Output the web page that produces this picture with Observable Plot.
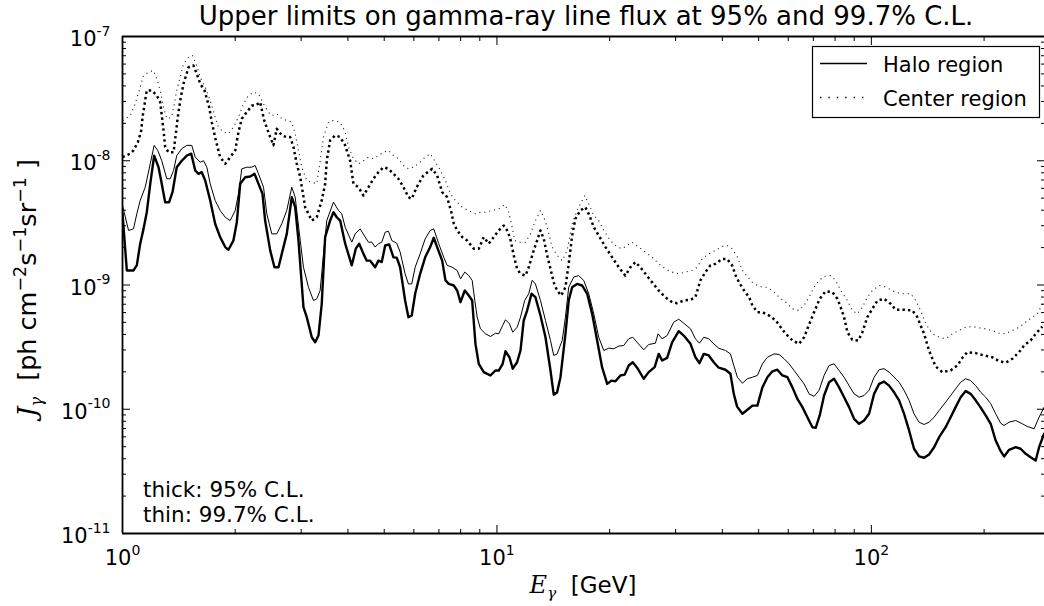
<!DOCTYPE html>
<html>
<head>
<meta charset="utf-8">
<script src="https://cdn.jsdelivr.net/npm/d3@7"></script>
<script src="https://cdn.jsdelivr.net/npm/@observablehq/plot@0.6"></script>
<style>
  html, body { margin: 0; padding: 0; background: #fff; }
  #chart { width: 1044px; height: 606px; }
  svg { overflow: visible; }
</style>
</head>
<body>
<div id="chart"></div>
<script>
// ---------------- data ----------------
const titleText = "Upper limits on gamma-ray line flux at 95% and 99.7% C.L.";
const legendLabels = ["Halo region", "Center region"];
const noteLines = ["thick: 95% C.L.", "thin: 99.7% C.L."];

const xMajorTicks = [1, 10, 100];
const xMinorTicks = [2, 3, 4, 5, 6, 7, 8, 9, 20, 30, 40, 50, 60, 70, 80, 90, 200];
const yMajorTicks = [1e-11, 1e-10, 1e-9, 1e-8, 1e-7];
const yMinorTicks = [2e-11,3e-11,4e-11,5e-11,6e-11,7e-11,8e-11,9e-11,
                     2e-10,3e-10,4e-10,5e-10,6e-10,7e-10,8e-10,9e-10,
                     2e-9,3e-9,4e-9,5e-9,6e-9,7e-9,8e-9,9e-9,
                     2e-8,3e-8,4e-8,5e-8,6e-8,7e-8,8e-8,9e-8];

// Halo region, 95% C.L. (thick solid)
const haloThickE = [1.00,1.027,1.070,1.092,1.115,1.138,1.161,1.186,1.215,1.248,
1.273,1.300,1.332,1.360,1.396,1.440,1.485,1.526,1.564,1.596,
1.628,1.663,1.715,1.768,1.823,1.881,1.919,1.978,2.020,2.062,
2.127,2.193,2.252,2.308,2.365,2.404,2.480,2.546,2.610,2.663,
2.746,2.832,2.892,2.951,3.043,3.105,3.203,3.270,3.337,3.405,
3.477,3.585,3.660,3.734,3.814,3.933,4.096,4.198,4.287,4.401,
4.491,4.586,4.729,4.826,4.925,5.030,5.154,5.292,5.400,5.514,
5.686,5.803,5.922,6.048,6.236,6.432,6.633,6.781,6.923,7.141,
7.287,7.437,7.670,7.832,7.993,8.207,8.411,8.587,8.763,8.943,
9.222,9.610,9.909,10.11,10.36,10.54,10.80,11.02,11.32,11.56,
11.79,12.04,12.37,12.67,13.07,13.48,13.90,14.18,14.48,14.78,
15.24,15.55,15.88,16.37,16.88,17.42,17.96,18.52,19.09,19.70,
20.22,20.73,21.37,21.94,22.49,23.05,23.68,24.66,25.43,26.38,
27.04,27.62,28.48,29.37,30.59,31.54,32.88,33.89,34.74,35.68,
36.80,37.93,39.11,40.77,42.04,42.91,43.80,45.25,46.66,48.12,
49.62,51.17,52.77,54.42,56.10,57.86,59.68,61.54,63.46,65.44,
67.48,69.59,71.01,72.78,74.77,77.11,79.51,81.99,84.56,87.19,
89.91,92.73,95.61,98.60,101.7,104.9,108.1,111.5,115.0,118.6,
122.3,126.1,130.0,134.1,138.3,142.6,147.1,151.7,157.9,162.8,
167.9,173.2,178.6,184.2,189.9,195.9,202.0,208.3,214.8,221.5,
226.2,233.3,242.9,250.4,258.3,266.3,274.7,280.5,289.3];
const haloThickJ = [3.75e-9,1.31e-9,1.31e-9,1.44e-9,2.15e-9,2.83e-9,3.85e-9,6.52e-9,1.10e-8,8.87e-9,
6.52e-9,4.64e-9,4.64e-9,5.58e-9,8.87e-9,1.00e-8,1.10e-8,1.14e-8,8.35e-9,7.85e-9,
8.09e-9,6.93e-9,4.79e-9,3.11e-9,2.43e-9,2.02e-9,1.92e-9,2.28e-9,3.20e-9,6.52e-9,
7.37e-9,7.47e-9,7.85e-9,6.52e-9,5.42e-9,3.30e-9,1.90e-9,1.39e-9,1.39e-9,1.78e-9,
2.58e-9,5.09e-9,4.23e-9,2.28e-9,6.63e-10,5.51e-10,3.80e-10,3.46e-10,3.92e-10,7.06e-10,
2.43e-9,3.30e-9,3.85e-9,3.51e-9,3.30e-9,2.15e-9,1.44e-9,1.96e-9,2.15e-9,1.78e-9,
1.57e-9,1.57e-9,1.39e-9,1.57e-9,1.53e-9,2.08e-9,2.12e-9,1.67e-9,1.66e-9,1.39e-9,
7.50e-10,5.51e-10,5.68e-10,8.50e-10,1.23e-9,1.67e-9,2.02e-9,2.40e-9,2.02e-9,1.57e-9,
1.09e-9,1.02e-9,9.91e-10,9.03e-10,7.27e-10,9.03e-10,8.23e-10,7.50e-10,3.36e-10,2.32e-10,
1.99e-10,1.87e-10,2.05e-10,2.05e-10,2.32e-10,2.93e-10,2.62e-10,2.12e-10,2.39e-10,2.97e-10,
5.18e-10,6.23e-10,8.50e-10,7.98e-10,5.68e-10,3.80e-10,2.05e-10,1.31e-10,1.37e-10,1.81e-10,
4.05e-10,7.50e-10,9.60e-10,1.02e-9,9.91e-10,8.50e-10,5.86e-10,3.58e-10,2.18e-10,1.60e-10,
1.70e-10,1.68e-10,1.87e-10,1.90e-10,2.25e-10,2.39e-10,2.16e-10,1.76e-10,1.99e-10,2.18e-10,
2.79e-10,2.47e-10,2.59e-10,3.46e-10,4.25e-10,3.92e-10,3.36e-10,2.62e-10,2.35e-10,2.79e-10,
2.71e-10,2.39e-10,2.16e-10,2.08e-10,1.93e-10,1.33e-10,1.05e-10,9.19e-11,9.90e-11,1.07e-10,
1.07e-10,1.50e-10,1.81e-10,2.02e-10,2.08e-10,1.87e-10,1.81e-10,1.50e-10,1.21e-10,1.04e-10,
8.63e-11,7.17e-11,7.09e-11,8.91e-11,1.29e-10,1.65e-10,1.76e-10,1.50e-10,1.25e-10,1.04e-10,
8.38e-11,7.64e-11,8.12e-11,9.19e-11,1.33e-10,1.60e-10,1.67e-10,1.55e-10,1.37e-10,1.18e-10,
9.19e-11,6.75e-11,4.81e-11,4.17e-11,4.07e-11,4.32e-11,4.95e-11,5.96e-11,7.17e-11,8.63e-11,
1.04e-10,1.25e-10,1.40e-10,1.33e-10,1.18e-10,1.03e-10,8.91e-11,7.64e-11,5.60e-11,4.60e-11,
4.17e-11,4.72e-11,4.95e-11,4.81e-11,4.38e-11,4.11e-11,3.87e-11,4.95e-11,6.35e-11];

// Halo region, 99.7% C.L. (thin solid)
const haloThinE = [1.00,1.038,1.070,1.092,1.115,1.150,1.186,1.215,1.242,1.273,
1.313,1.341,1.369,1.396,1.440,1.485,1.531,1.564,1.613,1.646,
1.680,1.715,1.768,1.823,1.881,1.939,2.000,2.040,2.083,2.147,
2.214,2.261,2.308,2.380,2.429,2.504,2.582,2.663,2.746,2.832,
2.892,2.983,3.043,3.138,3.236,3.302,3.372,3.442,3.512,3.660,
3.774,3.851,3.933,4.096,4.182,4.312,4.448,4.540,4.633,4.729,
4.826,4.925,5.030,5.133,5.239,5.400,5.514,5.686,5.803,5.922,
6.048,6.236,6.432,6.633,6.781,6.992,7.211,7.362,7.592,7.832,
7.993,8.207,8.411,8.587,8.727,8.856,9.036,9.318,9.610,9.909,
10.11,10.36,10.54,10.80,11.02,11.32,11.56,11.86,12.16,12.42,
12.67,13.07,13.48,13.90,14.18,14.48,14.94,15.24,15.55,16.04,
16.53,17.05,17.59,18.14,18.70,19.29,19.89,20.51,21.15,21.81,
22.49,23.05,23.68,24.66,25.43,26.50,26.94,27.62,28.48,29.66,
30.59,31.54,32.88,33.89,34.74,35.68,36.80,37.93,39.11,40.77,
42.04,42.91,43.87,45.25,46.66,48.12,49.62,51.17,52.77,54.99,
56.68,58.47,60.29,62.18,64.12,66.12,68.19,70.31,72.51,74.77,
77.11,79.51,81.99,84.56,87.19,89.91,92.73,95.61,98.60,101.7,
104.9,108.1,111.5,115.0,118.6,122.3,126.1,130.0,134.1,138.3,
142.6,147.1,151.7,157.9,162.8,167.9,173.2,178.6,184.2,189.9,
195.9,202.0,208.3,214.8,221.5,226.2,233.3,242.9,253.0,261.0,
272.0,280.5,289.3];
const haloThinJ = [4.36e-9,2.75e-9,2.83e-9,3.74e-9,4.79e-9,6.13e-9,9.45e-9,1.33e-8,1.21e-8,1.00e-8,
7.16e-9,7.16e-9,8.35e-9,1.10e-8,1.25e-8,1.33e-8,1.33e-8,1.07e-8,9.73e-9,1.00e-8,
8.87e-9,6.52e-9,4.79e-9,3.98e-9,3.51e-9,3.30e-9,3.98e-9,5.42e-9,8.61e-9,8.87e-9,
8.87e-9,9.16e-9,7.85e-9,6.13e-9,3.74e-9,2.58e-9,2.58e-9,3.11e-9,3.98e-9,6.13e-9,
5.09e-9,2.28e-9,1.39e-9,9.60e-10,7.50e-10,7.74e-10,9.03e-10,1.78e-9,3.30e-9,4.64e-9,
3.98e-9,3.74e-9,2.92e-9,2.21e-9,2.58e-9,2.83e-9,2.43e-9,2.21e-9,2.21e-9,2.02e-9,
2.15e-9,2.21e-9,2.66e-9,2.71e-9,2.28e-9,2.17e-9,1.84e-9,1.23e-9,1.02e-9,1.02e-9,
1.39e-9,1.78e-9,2.35e-9,2.75e-9,2.83e-9,2.15e-9,1.67e-9,1.44e-9,1.39e-9,1.31e-9,
1.12e-9,1.27e-9,1.19e-9,1.09e-9,7.50e-10,5.51e-10,4.44e-10,4.05e-10,3.85e-10,4.09e-10,
4.05e-10,4.72e-10,5.25e-10,4.87e-10,4.17e-10,4.57e-10,5.51e-10,7.50e-10,8.50e-10,1.09e-9,
1.02e-9,7.50e-10,5.18e-10,3.58e-10,2.71e-10,2.79e-10,3.58e-10,5.51e-10,9.60e-10,1.16e-9,
1.19e-9,1.09e-9,8.50e-10,5.86e-10,3.80e-10,2.97e-10,3.10e-10,3.07e-10,3.22e-10,3.26e-10,
3.69e-10,3.80e-10,3.46e-10,3.01e-10,3.32e-10,3.40e-10,4.05e-10,3.69e-10,3.92e-10,5.02e-10,
5.31e-10,4.93e-10,4.44e-10,3.69e-10,3.40e-10,3.80e-10,3.69e-10,3.36e-10,3.10e-10,2.97e-10,
2.79e-10,2.25e-10,1.81e-10,1.62e-10,1.76e-10,1.81e-10,1.87e-10,2.32e-10,2.62e-10,2.79e-10,
2.76e-10,2.55e-10,2.32e-10,2.05e-10,1.81e-10,1.60e-10,1.33e-10,1.27e-10,1.42e-10,1.87e-10,
2.25e-10,2.32e-10,2.05e-10,1.81e-10,1.55e-10,1.33e-10,1.25e-10,1.29e-10,1.42e-10,1.81e-10,
2.08e-10,2.12e-10,1.99e-10,1.81e-10,1.65e-10,1.42e-10,1.18e-10,9.19e-11,7.87e-11,7.54e-11,
7.87e-11,8.63e-11,9.77e-11,1.14e-10,1.29e-10,1.46e-10,1.65e-10,1.76e-10,1.70e-10,1.55e-10,
1.37e-10,1.25e-10,1.11e-10,9.19e-11,7.72e-11,7.40e-11,7.87e-11,8.12e-11,7.64e-11,7.26e-11,
6.96e-11,8.63e-11,1.04e-10];

// Center region, 95% C.L. (thick dotted)
const centerThickE = [1.00,1.049,1.070,1.099,1.122,1.131,1.161,1.197,1.235,1.261,
1.287,1.300,1.327,1.369,1.388,1.405,1.426,1.455,1.501,1.547,
1.579,1.613,1.656,1.704,1.732,1.775,1.823,1.881,1.939,2.000,
2.040,2.083,2.147,2.214,2.270,2.332,2.390,2.480,2.530,2.582,
2.663,2.746,2.804,2.862,2.920,2.983,3.075,3.138,3.203,3.302,
3.405,3.477,3.512,3.585,3.698,3.814,3.933,4.055,4.138,4.267,
4.401,4.540,4.680,4.826,4.977,5.133,5.292,5.458,5.628,5.803,
5.922,6.107,6.364,6.714,6.923,7.141,7.362,7.557,7.670,7.832,
8.072,8.325,8.674,8.943,9.222,9.508,9.806,10.11,10.43,10.65,
10.86,11.09,11.32,11.56,11.92,12.16,12.54,12.80,13.07,13.34,
13.62,13.90,14.18,14.48,14.84,15.24,15.55,15.88,16.20,16.71,
17.23,17.66,18.14,18.70,19.49,20.31,21.15,22.03,22.73,23.43,
24.16,24.92,25.97,27.04,28.18,29.37,30.28,31.54,32.88,33.89,
34.95,36.05,37.17,38.32,39.94,41.19,42.46,43.42,44.33,45.72,
47.15,48.12,49.62,51.17,53.33,55.54,57.27,59.04,61.54,64.12,
66.12,67.48,68.86,70.31,72.78,75.51,78.71,81.14,82.79,84.56,
86.29,88.96,92.33,94.62,97.57,100.6,103.8,108.1,112.6,116.1,
122.3,128.7,132.7,135.4,138.3,142.6,145.6,148.5,154.8,162.8,
169.7,175.0,180.4,189.9,199.9,210.5,219.3,228.4,238.0,248.0,
255.7,266.3,274.7,286.2];
const centerThickJ = [1.07e-8,1.14e-8,1.21e-8,1.41e-8,1.75e-8,2.24e-8,3.68e-8,3.68e-8,3.35e-8,2.96e-8,
1.75e-8,1.29e-8,1.17e-8,1.17e-8,1.65e-8,2.24e-8,3.05e-8,4.16e-8,5.66e-8,5.84e-8,
5.01e-8,4.16e-8,3.68e-8,2.70e-8,2.04e-8,1.46e-8,1.07e-8,9.45e-9,1.07e-8,1.21e-8,
1.70e-8,2.18e-8,2.46e-8,2.78e-8,2.78e-8,2.96e-8,2.11e-8,1.55e-8,1.33e-8,1.81e-8,
1.60e-8,1.55e-8,1.55e-8,1.29e-8,9.45e-9,7.37e-9,4.23e-9,3.74e-9,3.30e-9,3.51e-9,
4.79e-9,6.52e-9,1.00e-8,1.46e-8,1.60e-8,1.55e-8,1.33e-8,1.00e-8,6.52e-9,6.13e-9,
5.25e-9,6.13e-9,7.16e-9,8.09e-9,8.87e-9,8.61e-9,7.85e-9,7.16e-9,6.13e-9,5.09e-9,
4.94e-9,6.13e-9,7.61e-9,8.61e-9,7.61e-9,5.58e-9,5.09e-9,3.85e-9,3.11e-9,2.75e-9,
2.43e-9,2.28e-9,1.96e-9,1.96e-9,2.43e-9,2.15e-9,2.43e-9,2.75e-9,3.01e-9,2.75e-9,
2.35e-9,1.73e-9,1.35e-9,1.23e-9,1.19e-9,1.39e-9,1.90e-9,2.28e-9,2.75e-9,2.35e-9,
1.73e-9,1.35e-9,1.05e-9,9.03e-10,8.23e-10,9.60e-10,1.48e-9,2.50e-9,3.41e-9,3.98e-9,
4.23e-9,3.63e-9,2.92e-9,2.50e-9,2.02e-9,1.67e-9,1.39e-9,1.19e-9,1.39e-9,1.53e-9,
1.39e-9,1.23e-9,1.05e-9,9.03e-10,7.98e-10,7.27e-10,7.14e-10,7.50e-10,7.60e-10,7.98e-10,
1.09e-9,1.27e-9,1.44e-9,1.48e-9,1.62e-9,1.62e-9,1.44e-9,1.19e-9,1.05e-9,9.03e-10,
7.98e-10,6.84e-10,6.04e-10,6.04e-10,5.68e-10,5.18e-10,4.57e-10,4.05e-10,3.58e-10,3.36e-10,
3.80e-10,4.44e-10,5.18e-10,6.04e-10,7.74e-10,8.92e-10,8.75e-10,7.74e-10,6.63e-10,5.51e-10,
4.17e-10,3.62e-10,3.58e-10,4.17e-10,5.51e-10,6.43e-10,7.50e-10,7.74e-10,7.06e-10,6.32e-10,
6.32e-10,6.23e-10,5.51e-10,4.72e-10,4.05e-10,2.97e-10,2.55e-10,2.21e-10,1.99e-10,2.05e-10,
2.25e-10,2.59e-10,2.88e-10,2.83e-10,2.71e-10,2.62e-10,2.44e-10,2.37e-10,2.55e-10,2.88e-10,
3.26e-10,3.58e-10,4.05e-10,4.63e-10];

// Center region, 99.7% C.L. (thin dotted)
const centerThinE = [1.00,1.049,1.081,1.115,1.138,1.173,1.210,1.235,1.261,1.287,
1.313,1.354,1.396,1.426,1.455,1.501,1.538,1.579,1.613,1.663,
1.715,1.768,1.804,1.861,1.919,1.978,2.040,2.104,2.170,2.238,
2.308,2.380,2.454,2.504,2.582,2.663,2.746,2.832,2.892,2.951,
3.012,3.105,3.203,3.302,3.372,3.442,3.549,3.660,3.814,3.933,
4.013,4.138,4.267,4.401,4.540,4.680,4.826,4.977,5.133,5.292,
5.458,5.628,5.803,5.984,6.171,6.364,6.633,6.823,7.066,7.287,
7.512,7.747,8.072,8.411,8.763,9.036,9.318,9.710,10.11,10.49,
10.75,10.98,11.16,11.44,11.92,12.29,12.67,13.07,13.34,13.62,
14.04,14.48,14.94,15.40,15.88,16.37,16.88,17.16,17.59,18.14,
18.70,19.29,20.09,20.94,21.60,22.27,22.96,23.91,24.92,25.97,
27.04,28.18,29.37,30.59,31.87,33.21,34.24,35.31,36.80,38.32,
39.94,41.19,42.46,43.80,45.25,46.66,48.12,50.13,52.22,54.42,
56.68,59.04,61.54,64.12,66.12,68.19,70.31,72.51,74.77,77.86,
80.30,82.79,86.29,88.96,91.75,94.62,97.57,100.6,104.9,108.1,
111.5,116.1,121.0,127.4,131.3,135.4,139.7,145.6,151.7,157.9,
164.6,171.5,178.6,186.1,194.0,202.0,210.5,219.3,228.4,238.0,
248.0,258.3,269.1,277.5,286.2];
const centerThinJ = [2.11e-8,2.31e-8,2.87e-8,3.91e-8,4.85e-8,5.16e-8,5.32e-8,4.57e-8,3.68e-8,2.70e-8,
2.18e-8,2.24e-8,3.68e-8,4.70e-8,6.03e-8,6.81e-8,7.03e-8,5.84e-8,4.70e-8,3.91e-8,
3.05e-8,2.24e-8,1.86e-8,1.70e-8,1.65e-8,1.86e-8,2.24e-8,2.87e-8,3.35e-8,3.56e-8,
3.46e-8,2.87e-8,2.46e-8,2.31e-8,2.39e-8,2.18e-8,2.11e-8,2.04e-8,1.65e-8,1.21e-8,
8.87e-9,6.93e-9,6.72e-9,6.52e-9,1.00e-8,1.55e-8,2.04e-8,2.11e-8,2.04e-8,1.70e-8,
1.29e-8,1.04e-8,9.45e-9,1.00e-8,1.07e-8,1.04e-8,1.10e-8,1.17e-8,1.21e-8,1.10e-8,
1.04e-8,9.16e-9,8.61e-9,8.87e-9,9.45e-9,1.04e-8,1.14e-8,1.00e-8,8.35e-9,6.93e-9,
5.42e-9,4.79e-9,4.23e-9,3.98e-9,3.74e-9,3.85e-9,3.85e-9,3.98e-9,4.10e-9,4.44e-9,
3.85e-9,2.92e-9,2.28e-9,2.21e-9,2.21e-9,2.58e-9,3.30e-9,3.98e-9,3.51e-9,2.92e-9,
2.02e-9,1.73e-9,1.57e-9,1.90e-9,3.11e-9,3.98e-9,4.79e-9,5.25e-9,4.50e-9,3.63e-9,
3.30e-9,2.75e-9,2.28e-9,2.02e-9,1.96e-9,2.08e-9,2.21e-9,2.02e-9,1.84e-9,1.67e-9,
1.48e-9,1.35e-9,1.27e-9,1.23e-9,1.27e-9,1.31e-9,1.39e-9,1.62e-9,1.78e-9,1.90e-9,
2.04e-9,2.08e-9,1.96e-9,1.70e-9,1.31e-9,1.17e-9,1.05e-9,9.72e-10,9.60e-10,9.03e-10,
7.98e-10,7.27e-10,6.43e-10,6.23e-10,6.84e-10,7.98e-10,9.60e-10,1.09e-9,1.17e-9,1.19e-9,
1.09e-9,9.03e-10,7.50e-10,6.23e-10,5.86e-10,6.63e-10,7.98e-10,9.03e-10,9.91e-10,9.72e-10,
9.32e-10,8.75e-10,8.50e-10,8.50e-10,7.50e-10,6.23e-10,4.87e-10,4.05e-10,3.80e-10,3.69e-10,
4.05e-10,4.30e-10,4.57e-10,4.63e-10,4.52e-10,4.44e-10,4.30e-10,4.09e-10,4.05e-10,4.30e-10,
4.57e-10,5.02e-10,5.51e-10,5.86e-10,7.06e-10];

// ---------------- chart ----------------
const toRows = (E, J) => E.map((e, i) => ({E: e, J: J[i]}));
const seriesStyles = [
  {rows: toRows(centerThinE, centerThinJ),   strokeWidth: 1.1, strokeDasharray: "1.1,3.9", strokeLinecap: "butt", stroke: "#222"},
  {rows: toRows(centerThickE, centerThickJ), strokeWidth: 2.5, strokeDasharray: "2.4,3.1", strokeLinecap: "butt", stroke: "#000"},
  {rows: toRows(haloThinE, haloThinJ),       strokeWidth: 1.0, strokeDasharray: null, strokeLinecap: "round", stroke: "#000"},
  {rows: toRows(haloThickE, haloThickJ),     strokeWidth: 2.4, strokeDasharray: null, strokeLinecap: "round", stroke: "#000"}
];

const pow10 = d => "10^" + Math.round(Math.log10(d));
const blank = () => "";

const W = 1044, H = 606;
const plot = Plot.plot({
  width: W, height: H,
  marginLeft: 122, marginRight: 0, marginTop: 36, marginBottom: 73,
  style: {fontFamily: "'DejaVu Sans', sans-serif", fontSize: "21px", background: "#fff", color: "#000", overflow: "visible"},
  x: {type: "log", domain: [1, 290], axis: null, label: null},
  y: {type: "log", domain: [1e-11, 1e-7], axis: null, label: null},
  marks: [
    ...seriesStyles.map(s => Plot.line(s.rows, {
      x: "E", y: "J", stroke: s.stroke, strokeWidth: s.strokeWidth,
      strokeDasharray: s.strokeDasharray, strokeLinecap: s.strokeLinecap,
      strokeLinejoin: "round", clip: true
    })),
    // inward ticks (major + minor) on all visible sides
    Plot.axisX(xMajorTicks, {anchor: "bottom", tickSize: -8, tickFormat: blank, label: null}),
    Plot.axisX(xMinorTicks, {anchor: "bottom", tickSize: -4, tickFormat: blank, label: null}),
    Plot.axisX(xMajorTicks, {anchor: "top", tickSize: -8, tickFormat: blank, label: null}),
    Plot.axisX(xMinorTicks, {anchor: "top", tickSize: -4, tickFormat: blank, label: null}),
    Plot.axisY(yMajorTicks, {anchor: "left", tickSize: -8, tickFormat: blank, label: null}),
    Plot.axisY(yMinorTicks, {anchor: "left", tickSize: -4, tickFormat: blank, label: null}),
    Plot.axisY(yMajorTicks, {anchor: "right", tickSize: -8, tickFormat: blank, label: null}),
    Plot.axisY(yMinorTicks, {anchor: "right", tickSize: -4, tickFormat: blank, label: null}),
    // tick labels
    Plot.axisX(xMajorTicks, {anchor: "bottom", tickSize: 0, tickPadding: 17, tickFormat: pow10, label: null, fontSize: 21}),
    Plot.axisY(yMajorTicks, {anchor: "left", tickSize: 0, tickPadding: 12, tickFormat: pow10, label: null, fontSize: 21, dy: 3}),
    // spines
    Plot.ruleX([xMajorTicks[0]], {stroke: "#000", strokeWidth: 1.8}),
    Plot.ruleY([yMajorTicks[0], yMajorTicks[yMajorTicks.length - 1]], {stroke: "#000", strokeWidth: 1.8})
  ]
});
document.getElementById("chart").append(plot);

// ---------------- text decorations ----------------
const svg = d3.select(plot);

function rich(sel, parts) {
  let prev = 0;
  for (const p of parts) {
    const ts = sel.append("tspan").text(p.t);
    if (p.size) ts.attr("font-size", p.size);
    if (p.italic) ts.attr("font-style", "italic");
    if (p.serif) ts.attr("font-family", "'DejaVu Serif', serif");
    const s = p.shift || 0;
    if (s !== prev) ts.attr("dy", prev - s);
    prev = s;
  }
}

// superscript exponents in tick labels
svg.selectAll("text").each(function () {
  const t = this.textContent;
  const m = /^10\^(-?\d+)$/.exec(t);
  if (!m) return;
  const sel = d3.select(this);
  sel.text(null);
  rich(sel, [{t: "10"}, {t: m[1], size: 14, shift: 10.5}]);
});

// title
svg.append("text").attr("x", 586).attr("y", 25).attr("text-anchor", "middle")
  .attr("font-size", 26).attr("fill", "#000").text(titleText);

// x label
rich(svg.append("text").attr("x", 583).attr("y", 593).attr("text-anchor", "middle").attr("font-size", 23).attr("fill", "#000"),
  [{t: "E", italic: true, serif: true, size: 24}, {t: "\u03b3", italic: true, serif: true, size: 15, shift: -5}, {t: "  [GeV]", size: 23}]);

// y label
rich(svg.append("text").attr("transform", "translate(36,288) rotate(-90)").attr("text-anchor", "middle").attr("font-size", 25.5).attr("fill", "#000"),
  [{t: "J", italic: true, serif: true, size: 26}, {t: "\u03b3", italic: true, serif: true, size: 16, shift: -6},
   {t: "  [ph cm", size: 25.5}, {t: "\u22122", size: 17.5, shift: 10}, {t: "s", size: 25.5},
   {t: "\u22121", size: 17.5, shift: 10}, {t: "sr", size: 25.5}, {t: "\u22121", size: 17.5, shift: 10}, {t: " ]", size: 25.5}]);

// bottom-left note
noteLines.forEach((line, i) => {
  svg.append("text").attr("x", 143).attr("y", 497 + i * 25).attr("text-anchor", "start")
    .attr("font-size", 21.5).attr("fill", "#000").text(line);
});

// legend
const lg = svg.append("g");
lg.append("rect").attr("x", 812.5).attr("y", 46.5).attr("width", 227).attr("height", 71)
  .attr("fill", "#fff").attr("stroke", "#000").attr("stroke-width", 1.2);
lg.append("line").attr("x1", 820).attr("x2", 867).attr("y1", 63.5).attr("y2", 63.5)
  .attr("stroke", "#000").attr("stroke-width", 1.6);
lg.append("line").attr("x1", 820).attr("x2", 867).attr("y1", 97.5).attr("y2", 97.5)
  .attr("stroke", "#000").attr("stroke-width", 1.4).attr("stroke-dasharray", "1.4,7");
lg.append("text").attr("x", 883).attr("y", 72).attr("text-anchor", "start").attr("font-size", 21).attr("fill", "#000").text(legendLabels[0]);
lg.append("text").attr("x", 883).attr("y", 105.5).attr("text-anchor", "start").attr("font-size", 21).attr("fill", "#000").text(legendLabels[1]);
</script>
</body>
</html>
